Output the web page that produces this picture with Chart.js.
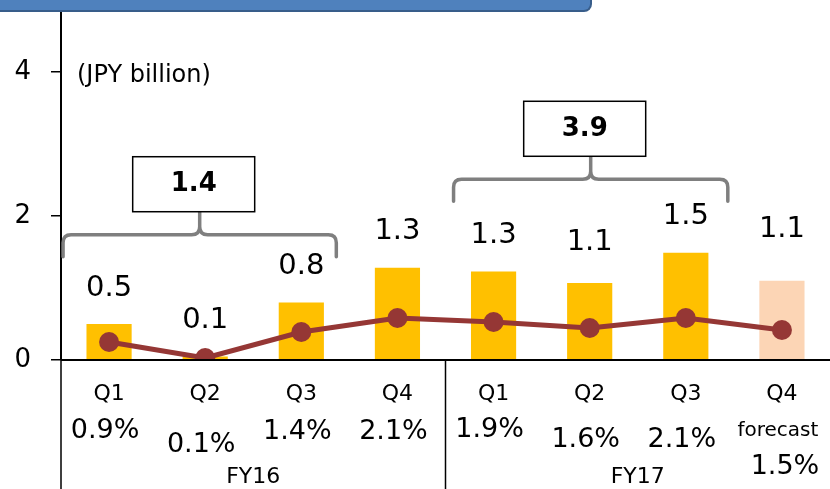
<!DOCTYPE html>
<html>
<head>
<meta charset="utf-8">
<script src="https://cdn.jsdelivr.net/npm/chart.js@4.4.1/dist/chart.umd.min.js"></script>
<style>
  body { margin: 0; background: #fff; overflow: hidden; }
  #wrap { position: relative; width: 830px; height: 489px; }
  #banner {
    position: absolute; left: 0; top: -4px; width: 590px; height: 12px;
    background: #4f81bd; border: 2px solid #385d8a; border-left: none;
    border-bottom-right-radius: 8px;
  }
</style>
</head>
<body>
<div id="wrap">
  <canvas id="chart" width="830" height="489"></canvas>
  <div id="banner"></div>
</div>
<script>
// chart values
const quarters = ['Q1', 'Q2', 'Q3', 'Q4', 'Q1', 'Q2', 'Q3', 'Q4'];
const fiscalYears = ['FY16', 'FY17'];
const profit = [0.5, 0.05, 0.8, 1.28, 1.23, 1.07, 1.49, 1.1];
const profitLabels = ['0.5', '0.1', '0.8', '1.3', '1.3', '1.1', '1.5', '1.1'];
const margin = [0.9, 0.1, 1.4, 2.1, 1.9, 1.6, 2.1, 1.5];
const yearTotals = ['1.4', '3.9'];
const yTicks = [0, 2, 4];

const barColors = profit.map((v, i) => i === profit.length - 1 ? '#fcd5b5' : '#ffc000');
const FONT = '"DejaVu Sans", Verdana, sans-serif';

function drawBrace(ctx, x1, x2, yLine, yEnd, yTop) {
    const r = 8;
    const xm = (x1 + x2) / 2;
    ctx.beginPath();
    ctx.moveTo(x1, yEnd);
    ctx.lineTo(x1, yLine + r);
    ctx.quadraticCurveTo(x1, yLine, x1 + r, yLine);
    ctx.lineTo(xm - r, yLine);
    ctx.quadraticCurveTo(xm, yLine, xm, yLine - r);
    ctx.lineTo(xm, yTop);
    ctx.moveTo(xm, yLine - r);
    ctx.quadraticCurveTo(xm, yLine, xm + r, yLine);
    ctx.lineTo(x2 - r, yLine);
    ctx.quadraticCurveTo(x2, yLine, x2, yLine + r);
    ctx.lineTo(x2, yEnd);
    ctx.stroke();
}

const decorations = {
    id: 'decorations',
    afterDatasetsDraw(chart) {
        const ctx = chart.ctx;
        const x = chart.scales.x;
        const y = chart.scales.y;
        const area = chart.chartArea;
        ctx.save();

        // x axis line and year dividers
        ctx.strokeStyle = '#000';
        ctx.lineWidth = 2;
        ctx.beginPath();
        ctx.moveTo(area.left, area.bottom);
        ctx.lineTo(area.right, area.bottom);
        ctx.stroke();
        ctx.lineWidth = 1.5;
        const mid = (x.getPixelForValue(3) + x.getPixelForValue(4)) / 2;
        ctx.beginPath();
        ctx.moveTo(area.left, area.bottom);
        ctx.lineTo(area.left, chart.height);
        ctx.moveTo(mid, area.bottom);
        ctx.lineTo(mid, chart.height);
        ctx.stroke();

        // unit label
        ctx.fillStyle = '#000';
        ctx.font = '24px ' + FONT;
        ctx.textAlign = 'left';
        ctx.textBaseline = 'middle';
        ctx.fillText('(JPY billion)', area.left + 16, y.getPixelForValue(4) + 4);

        // value labels above bars
        ctx.font = '29px ' + FONT;
        ctx.textAlign = 'center';
        const extra = [0, 0, 0, 0, 0, 4, 0, 15];
        profit.forEach((v, i) => {
            ctx.fillText(profitLabels[i], x.getPixelForValue(i), y.getPixelForValue(v) - 36 - extra[i]);
        });

        // category labels
        const pctY = [431, 445, 432, 432, 430, 440, 440, 467];
        quarters.forEach((q, i) => {
            const cx = x.getPixelForValue(i);
            const last = i === quarters.length - 1;
            ctx.font = '22px ' + FONT;
            ctx.fillText(q, cx, 394);
            if (last) {
                ctx.font = '20px ' + FONT;
                ctx.fillText('forecast', cx - 4, 431);
            }
            ctx.font = '27px ' + FONT;
            ctx.fillText(margin[i].toFixed(1) + '%', last ? cx + 3 : cx - 4, pctY[i]);
        });
        ctx.font = '22px ' + FONT;
        ctx.fillText(fiscalYears[0], (area.left + mid) / 2, 477);
        ctx.fillText(fiscalYears[1], (mid + area.right) / 2, 477);

        // braces with yearly totals
        ctx.strokeStyle = '#7f7f7f';
        ctx.lineWidth = 3.5;
        ctx.lineCap = 'round';
        const braces = [
            { x1: x.getPixelForValue(0) - 46, x2: x.getPixelForValue(2) + 35, v: 1.74 },
            { x1: x.getPixelForValue(4) - 40, x2: x.getPixelForValue(6) + 42, v: 2.51 }
        ];
        braces.forEach((b, i) => {
            const yl = y.getPixelForValue(b.v);
            drawBrace(ctx, b.x1, b.x2, yl, yl + 22, yl - 23);
            const bx = (b.x1 + b.x2) / 2 - 6;
            ctx.lineWidth = 1.5;
            ctx.strokeStyle = '#000';
            ctx.fillStyle = '#fff';
            ctx.fillRect(bx - 61, yl - 78, 122, 55);
            ctx.strokeRect(bx - 61, yl - 78, 122, 55);
            ctx.fillStyle = '#000';
            ctx.font = 'bold 26px ' + FONT;
            ctx.fillText(yearTotals[i], bx, yl - 50);
            ctx.strokeStyle = '#7f7f7f';
            ctx.lineWidth = 3.5;
        });
        ctx.restore();
    }
};

new Chart(document.getElementById('chart'), {
    data: {
        labels: quarters,
        datasets: [
            {
                type: 'line',
                data: margin,
                yAxisID: 'y1',
                borderColor: '#953735',
                backgroundColor: '#953735',
                borderWidth: 5,
                pointRadius: 10,
                pointBackgroundColor: '#953735',
                pointBorderWidth: 0,
                order: 0
            },
            {
                type: 'bar',
                data: profit,
                yAxisID: 'y',
                backgroundColor: barColors,
                barPercentage: 0.47,
                categoryPercentage: 1,
                order: 1
            }
        ]
    },
    options: {
        responsive: false,
        animation: false,
        devicePixelRatio: 1,
        layout: { autoPadding: false, padding: { top: 0, right: 0, bottom: 129, left: 0 } },
        plugins: { legend: { display: false }, tooltip: { enabled: false } },
        scales: {
            x: { display: false },
            y: {
                min: 0,
                max: 5,
                afterBuildTicks: s => { s.ticks = yTicks.map(v => ({ value: v })); },
                afterFit: s => { s.width = 61; s.paddingTop = 0; s.paddingBottom = 0; },
                border: { display: true, color: '#000', width: 2 },
                grid: { drawOnChartArea: false, drawTicks: true, tickLength: 10, color: '#000', lineWidth: 1.5 },
                ticks: { color: '#000', font: { family: FONT, size: 26 }, padding: 20 }
            },
            y1: { display: false, min: 0, max: 18 }
        }
    },
    plugins: [decorations]
});
</script>
</body>
</html>
